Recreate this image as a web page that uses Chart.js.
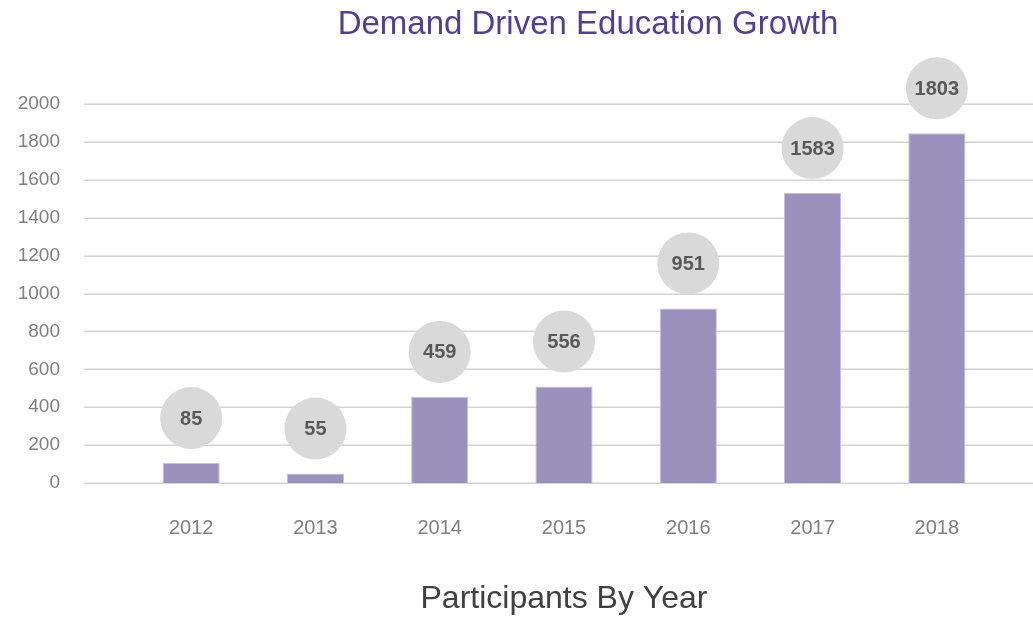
<!DOCTYPE html>
<html>
<head>
<meta charset="utf-8">
<script src="https://cdn.jsdelivr.net/npm/chart.js@4"></script>
<style>
  html, body { margin: 0; padding: 0; background: #ffffff; }
  #wrap { width: 1033px; height: 619px; position: relative; }
</style>
</head>
<body>
<div id="wrap"><canvas id="c" width="1033" height="619"></canvas></div>
<script>
// ---- data ----
const categories = ['2012', '2013', '2014', '2015', '2016', '2017', '2018'];
const barValues = [105, 50, 454, 509, 921, 1530, 1845];
const labelValues = ['85', '55', '459', '556', '951', '1583', '1803'];
const yTicks = [0, 200, 400, 600, 800, 1000, 1200, 1400, 1600, 1800, 2000];
const chartTitle = 'Demand Driven Education Growth';
const xTitle = 'Participants By Year';

const FONT = '"Liberation Sans", Arial, Helvetica, sans-serif';

const gridPlugin = {
  id: 'fullGrid',
  beforeDatasetsDraw(chart) {
    const ctx = chart.ctx;
    const ys = chart.scales.y;
    ctx.save();
    ctx.strokeStyle = '#d3d3d3';
    ctx.lineWidth = 1.5;
    yTicks.forEach(v => {
      const y = Math.round(ys.getPixelForValue(v)) + 0.25;
      ctx.beginPath();
      ctx.moveTo(84, y);
      ctx.lineTo(chart.width, y);
      ctx.stroke();
    });
    ctx.restore();
  }
};

const bubblePlugin = {
  id: 'bubbles',
  afterDatasetsDraw(chart) {
    const ctx = chart.ctx;
    const meta = chart.getDatasetMeta(0);
    ctx.save();
    meta.data.forEach((bar, i) => {
      const cx = bar.x;
      const cy = bar.y - 45;
      ctx.beginPath();
      ctx.arc(cx, cy, 31, 0, Math.PI * 2);
      ctx.fillStyle = '#d9d9d9';
      ctx.fill();
      ctx.fillStyle = '#595959';
      ctx.font = 'bold 20px ' + FONT;
      ctx.textAlign = 'center';
      ctx.textBaseline = 'middle';
      ctx.fillText(labelValues[i], cx, cy + 1);
    });
    ctx.restore();
  }
};

const titlePlugin = {
  id: 'topTitle',
  afterDraw(chart) {
    const ctx = chart.ctx;
    ctx.save();
    ctx.font = '33px ' + FONT;
    ctx.fillStyle = '#4f3f97';
    ctx.textAlign = 'center';
    ctx.textBaseline = 'alphabetic';
    ctx.fillText(chartTitle, 588, 34);
    ctx.restore();
  }
};

new Chart(document.getElementById('c'), {
  type: 'bar',
  data: {
    labels: categories,
    datasets: [{
      data: barValues,
      backgroundColor: '#9a92bc',
      borderColor: '#c6c0de',
      borderWidth: 1,
      barPercentage: 0.46,
      categoryPercentage: 1
    }]
  },
  options: {
    responsive: false,
    animation: false,
    devicePixelRatio: 1,
    layout: { padding: { left: 0, right: 34, top: 104, bottom: 0 } },
    plugins: {
      legend: { display: false },
      tooltip: { enabled: false },
      title: { display: false }
    },
    scales: {
      y: {
        min: 0,
        max: 2000,
        afterFit(s) { s.width = 129; },
        afterBuildTicks(s) { s.ticks = yTicks.map(v => ({ value: v })); },
        grid: { display: false, drawTicks: false },
        border: { display: false },
        ticks: {
          padding: 69,
          color: '#7f7f7f',
          font: { family: FONT, size: 19 },
          callback: v => String(v)
        }
      },
      x: {
        afterFit(s) { s.height = 136; },
        grid: { display: false, drawTicks: false },
        border: { display: false },
        ticks: {
          padding: 33,
          color: '#7f7f7f',
          font: { family: FONT, size: 20 }
        },
        title: {
          display: true,
          text: xTitle,
          color: '#404040',
          font: { family: FONT, size: 32 },
          padding: { top: 0, bottom: 1 }
        }
      }
    }
  },
  plugins: [gridPlugin, bubblePlugin, titlePlugin]
});
</script>
</body>
</html>
